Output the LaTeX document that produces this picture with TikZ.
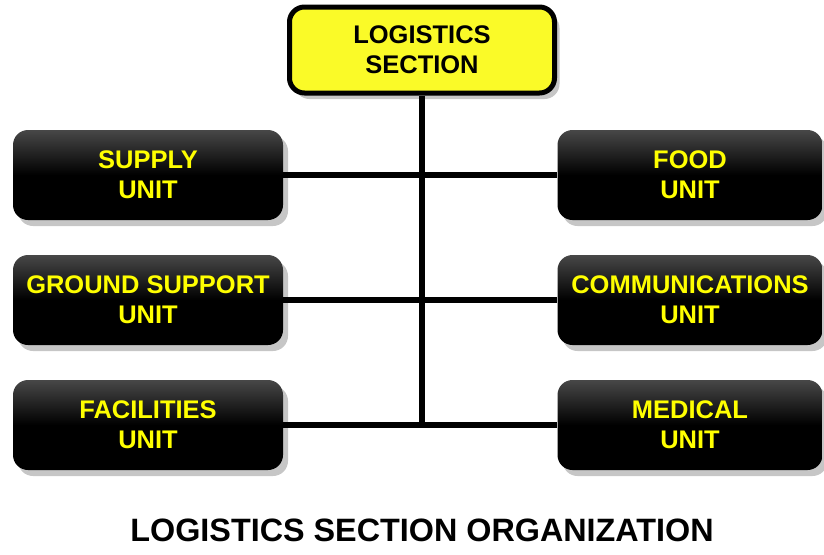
\documentclass[tikz,border=0pt]{standalone}
\usepackage{fontspec}
\setmainfont{Liberation Sans}
\usetikzlibrary{shadows}

\definecolor{unityellow}{RGB}{255,255,0}
\definecolor{headyellow}{RGB}{250,250,40}

\tikzset{
  unitbox/.style={rounded corners=0.3cm, minimum width=5.4cm, minimum height=1.8cm,
    top color=black!72, bottom color=black, middle color=black,
    text=unityellow, align=center, font=\fontsize{14.5}{17}\selectfont\bfseries,
    drop shadow={shadow xshift=0.1cm, shadow yshift=-0.12cm, opacity=0.45}},
  headbox/.style={rounded corners=0.3cm, minimum width=5.3cm, minimum height=1.72cm,
    draw=black, line width=0.1cm, fill=headyellow,
    text=black, align=center, font=\fontsize{14.5}{17}\selectfont\bfseries,
    drop shadow={shadow xshift=0.1cm, shadow yshift=-0.12cm, opacity=0.45}},
  link/.style={line width=0.12cm}
}

\begin{document}
\begin{tikzpicture}
    \useasboundingbox (0,0) rectangle (16.48,-11.08);

    % draw nodes
    \node[headbox] (sec) at (8.44,-1.0) {LOGISTICS\\SECTION};
    \node[unitbox] (sup) at (2.96,-3.5) {SUPPLY\\UNIT};
    \node[unitbox] (gnd) at (2.96,-6.0) {GROUND SUPPORT\\UNIT};
    \node[unitbox] (fac) at (2.96,-8.5) {FACILITIES\\UNIT};
    \node[unitbox, minimum width=5.3cm] (food) at (13.8,-3.5) {FOOD\\UNIT};
    \node[unitbox, minimum width=5.3cm] (comm) at (13.8,-6.0) {COMMUNICATIONS\\UNIT};
    \node[unitbox, minimum width=5.3cm] (med) at (13.8,-8.5) {MEDICAL\\UNIT};

    % draw connecting lines
    \coordinate (jn) at (sec.south |- fac.east);
    \draw[link] (sec.south) -- (jn);
    \draw[link] (sup.east) -- (food.west);
    \draw[link] (gnd.east) -- (comm.west);
    \draw[link] (fac.east) -- (med.west);

    % draw title
    \node[font=\fontsize{18.4}{22}\selectfont\bfseries] (ttl) at (8.44,-10.6)
      {LOGISTICS SECTION ORGANIZATION};
\end{tikzpicture}
\end{document}
